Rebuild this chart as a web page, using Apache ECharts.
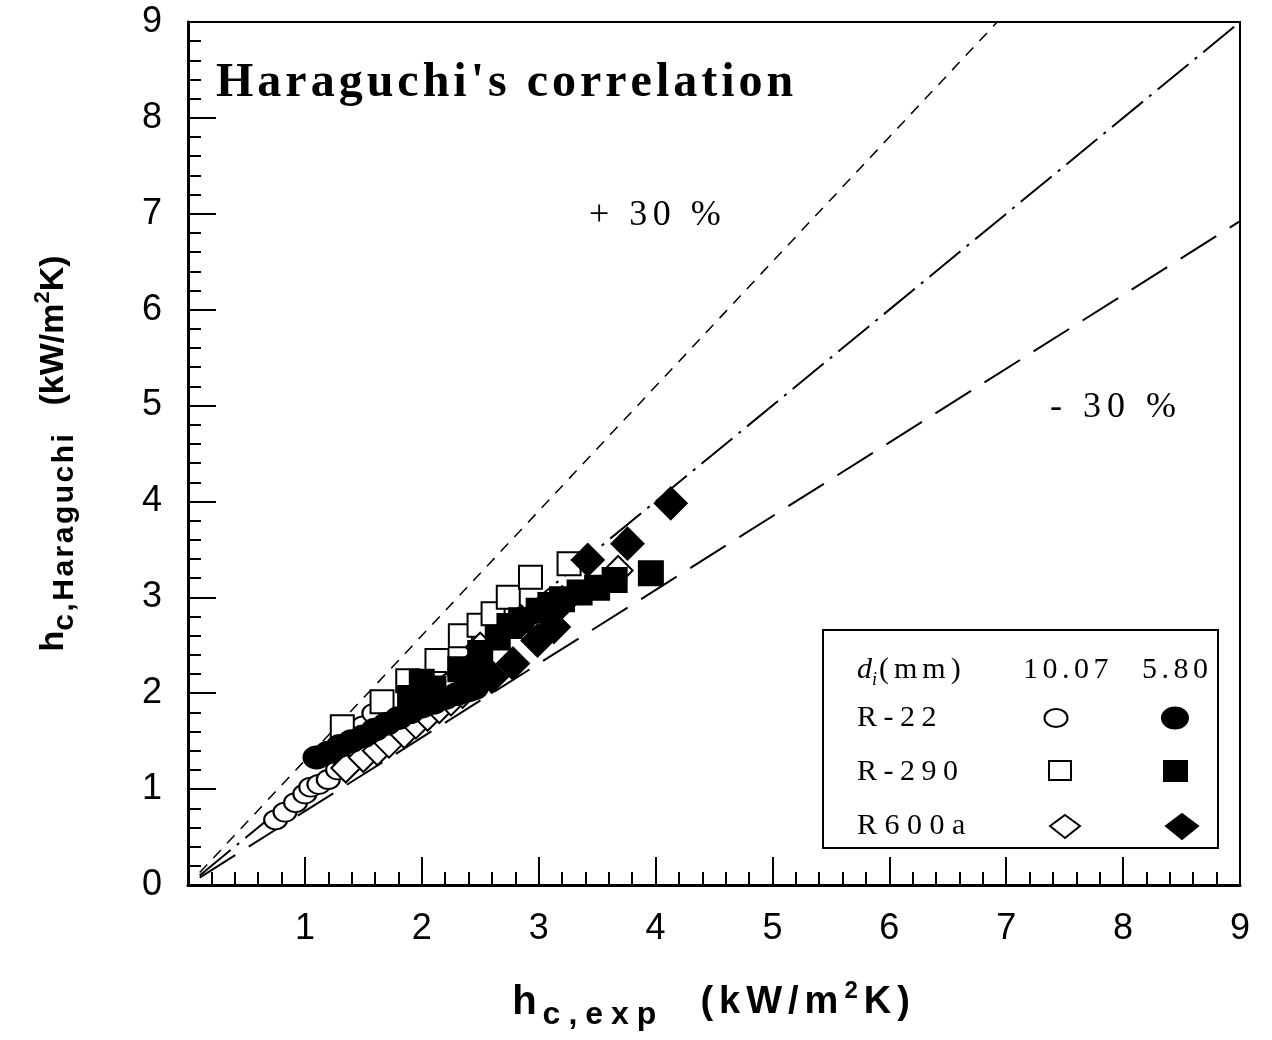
<!DOCTYPE html>
<html>
<head>
<meta charset="utf-8">
<script src="https://cdn.jsdelivr.net/npm/echarts@6/dist/echarts.min.js"></script>
<style>
  html, body { margin: 0; padding: 0; background: #fff; }
  #main { width: 1272px; height: 1040px; }
</style>
</head>
<body>
<div id="main"></div>
<script>
// R-22, di = 10.07 mm (open circles)
var r22Open = [[0.75,0.68],[0.83,0.76],[0.92,0.86],[1.0,0.95],[1.05,1.02],[1.12,1.05],[1.2,1.1],[1.28,1.2],[1.35,1.25],[1.5,1.66],[1.59,1.79]];
// R-22, di = 5.80 mm (filled circles)
var r22Filled = [[1.1,1.33],[1.2,1.38],[1.3,1.45],[1.4,1.5],[1.5,1.55],[1.6,1.62],[1.7,1.68],[1.8,1.74],[1.9,1.8],[2.0,1.86],[2.1,1.9],[2.2,1.95],[2.3,1.99],[2.4,2.03],[2.45,2.05]];
// R-290, di = 10.07 mm (open squares)
var r290Open = [[1.32,1.65],[1.66,1.91],[1.88,2.13],[2.13,2.34],[2.33,2.6],[2.49,2.71],[2.61,2.83],[2.74,3.0],[2.93,3.21],[3.26,3.35]];
// R-290, di = 5.80 mm (filled squares)
var r290Filled = [[1.9,1.95],[2.0,2.12],[2.1,2.05],[2.33,2.25],[2.5,2.42],[2.65,2.58],[2.75,2.7],[2.85,2.76],[3.0,2.86],[3.1,2.92],[3.2,2.98],[3.35,3.05],[3.5,3.1],[3.65,3.18],[3.96,3.25]];
// R600a, di = 10.07 mm (open diamonds)
var r600Open = [[1.35,1.22],[1.5,1.33],[1.62,1.4],[1.72,1.48],[1.85,1.58],[1.95,1.68],[2.05,1.76],[2.15,1.84],[2.25,1.92],[2.35,2.0],[2.5,2.48],[3.68,3.28]];
// R600a, di = 5.80 mm (filled diamonds)
var r600Filled = [[2.35,2.2],[2.45,2.3],[2.6,2.17],[2.78,2.31],[2.85,2.75],[2.99,2.55],[3.13,2.69],[3.2,2.95],[3.42,3.39],[3.76,3.56],[4.13,3.98]];

// reference lines: 1:1, +30 %, -30 %
var lineEqual = [[0.1,0.1],[9,9]];
var linePlus30 = [[0.1,0.13],[6.923,9]];
var lineMinus30 = [[0.1,0.077],[9,6.923]];

var chart = echarts.init(document.getElementById('main'));

var serif = '"Liberation Serif", "DejaVu Serif", serif';
var sans = '"Liberation Sans", Arial, sans-serif';

// one rich token per character, so the letters can be spread out
function spaced(str, style) {
    return str.split('').map(function (c) { return '{' + style + '|' + c + '}'; }).join('');
}

function scatter(name, data, symbol, size, filled) {
    return {
        name: name,
        type: 'scatter',
        data: data,
        symbol: symbol,
        symbolSize: size,
        itemStyle: {
            color: filled ? '#000' : '#fff',
            borderColor: '#000',
            borderWidth: 2,
            opacity: 1
        },
        z: filled ? 4 : 3
    };
}

function refLine(data, dash, width) {
    return {
        type: 'line',
        data: data,
        symbol: 'none',
        silent: true,
        lineStyle: { color: '#000', width: width, type: dash },
        z: 2
    };
}

function legendText(x, y, str, gap) {
    return {
        type: 'text', z: 11, x: x, y: y,
        style: {
            text: spaced(str, 't'),
            verticalAlign: 'middle',
            rich: { t: { font: '30px ' + serif, fill: '#000', padding: [0, gap, 0, 0] } }
        }
    };
}

var option = {
    backgroundColor: '#fff',
    animation: false,
    grid: {
        left: 188, right: 32, top: 22, bottom: 155,
        containLabel: false, outerBoundsMode: 'none',
        show: true, borderColor: '#000', borderWidth: 2, backgroundColor: 'transparent'
    },
    xAxis: {
        type: 'value', min: 0, max: 9, interval: 1,
        axisLine: { lineStyle: { color: '#000', width: 3 } },
        axisTick: { inside: true, length: 28, lineStyle: { color: '#000', width: 2 } },
        minorTick: { show: true, splitNumber: 5, length: 13, lineStyle: { color: '#000', width: 2 } },
        splitLine: { show: false },
        axisLabel: {
            color: '#000', fontFamily: sans, fontSize: 36, margin: 26,
            formatter: function (v) { return v === 0 ? '' : String(v); }
        },
        name: '{a|h}' + spaced('c,exp', 's') + '{g| }' + spaced('(kW/m', 'b') + '{p|2}' + spaced('K)', 'b'),
        nameLocation: 'middle',
        nameGap: 90,
        nameTextStyle: {
            rich: {
                a: { fontFamily: sans, fontWeight: 'bold', fontSize: 40, color: '#000', padding: [0, 6, 0, 0] },
                b: { fontFamily: sans, fontWeight: 'bold', fontSize: 38, color: '#000', padding: [0, 6, 0, 0] },
                s: { fontFamily: sans, fontWeight: 'bold', fontSize: 32, color: '#000', padding: [24, 8, 0, 0] },
                g: { fontSize: 28, width: 36 },
                p: { fontFamily: sans, fontWeight: 'bold', fontSize: 24, color: '#000', padding: [0, 6, 24, 0] }
            }
        }
    },
    yAxis: {
        type: 'value', min: 0, max: 9, interval: 1,
        axisLine: { lineStyle: { color: '#000', width: 3 } },
        axisTick: { inside: true, length: 28, lineStyle: { color: '#000', width: 2 } },
        minorTick: { show: true, splitNumber: 5, length: 13, lineStyle: { color: '#000', width: 2 } },
        splitLine: { show: false },
        axisLabel: { color: '#000', fontFamily: sans, fontSize: 36, margin: 26 },
        name: '{a|h}' + spaced('c,Haraguchi', 's') + '{g| }{a|(kW/m}{p|2}{a|K)}',
        nameLocation: 'middle',
        nameGap: 108,
        nameTextStyle: {
            rich: {
                a: { fontFamily: sans, fontWeight: 'bold', fontSize: 34, color: '#000' },
                s: { fontFamily: sans, fontWeight: 'bold', fontSize: 30, color: '#000', padding: [22, 2.5, 0, 0] },
                g: { fontSize: 28, width: 26 },
                p: { fontFamily: sans, fontWeight: 'bold', fontSize: 22, color: '#000', padding: [0, 0, 22, 0] }
            }
        }
    },
    series: [
        refLine(linePlus30, [11, 9], 1.5),
        refLine(lineEqual, [40, 8, 3, 8], 2),
        refLine(lineMinus30, [42, 16], 2),
        scatter('R-22 10.07', r22Open, 'circle', [23, 19], false),
        scatter('R-290 10.07', r290Open, 'rect', 23, false),
        scatter('R600a 10.07', r600Open, 'diamond', 29, false),
        scatter('R-22 5.80', r22Filled, 'circle', [26, 22], true),
        scatter('R-290 5.80', r290Filled, 'rect', 24, true),
        scatter('R600a 5.80', r600Filled, 'diamond', 32, true)
    ],
    graphic: [
        { type: 'text', x: 216, y: 84, z: 10,
          style: { text: spaced("Haraguchi's correlation", 't'), verticalAlign: 'middle',
                   rich: { t: { font: 'bold 48px ' + serif, fill: '#000', padding: [0, 4, 0, 0] } } } },
        { type: 'text', x: 589, y: 216, z: 10,
          style: { text: spaced('+ 30 %', 't'), verticalAlign: 'middle',
                   rich: { t: { font: '36px ' + serif, fill: '#000', padding: [0, 5.5, 0, 0] } } } },
        { type: 'text', x: 1050, y: 408, z: 10,
          style: { text: spaced('- 30 %', 't'), verticalAlign: 'middle',
                   rich: { t: { font: '36px ' + serif, fill: '#000', padding: [0, 6, 0, 0] } } } },
        // legend box
        { type: 'rect', z: 10, shape: { x: 823, y: 630, width: 395, height: 218 },
          style: { fill: '#fff', stroke: '#000', lineWidth: 2 } },
        { type: 'text', z: 11, x: 857, y: 670,
          style: {
              text: '{d|d}{i|i}' + spaced('(mm)', 'm'),
              verticalAlign: 'middle',
              rich: {
                  d: { font: 'italic 30px ' + serif, fill: '#000' },
                  i: { font: 'italic 18px ' + serif, fill: '#000', padding: [20, 2, 0, 0] },
                  m: { font: '30px ' + serif, fill: '#000', padding: [0, 5, 0, 0] }
              }
          } },
        legendText(1023, 670, '10.07', 4.5),
        legendText(1142, 670, '5.80', 4.5),
        legendText(857, 718, 'R-22', 6.5),
        legendText(857, 772, 'R-290', 6.5),
        legendText(857, 826, 'R600a', 7.5),
        { type: 'ellipse', z: 11, shape: { cx: 1056, cy: 718, rx: 11.5, ry: 9 }, style: { fill: '#fff', stroke: '#000', lineWidth: 2 } },
        { type: 'ellipse', z: 11, shape: { cx: 1175, cy: 718, rx: 13, ry: 10.5 }, style: { fill: '#000', stroke: '#000', lineWidth: 2 } },
        { type: 'rect', z: 11, shape: { x: 1049, y: 761, width: 22, height: 19 }, style: { fill: '#fff', stroke: '#000', lineWidth: 2 } },
        { type: 'rect', z: 11, shape: { x: 1164, y: 761, width: 23, height: 20 }, style: { fill: '#000', stroke: '#000', lineWidth: 2 } },
        { type: 'polygon', z: 11, shape: { points: [[1065, 815], [1080, 826], [1065, 838], [1050, 826]] }, style: { fill: '#fff', stroke: '#000', lineWidth: 2 } },
        { type: 'polygon', z: 11, shape: { points: [[1182, 814], [1198, 826], [1182, 839], [1166, 826]] }, style: { fill: '#000', stroke: '#000', lineWidth: 2 } }
    ]
};

chart.setOption(option);
</script>
</body>
</html>
